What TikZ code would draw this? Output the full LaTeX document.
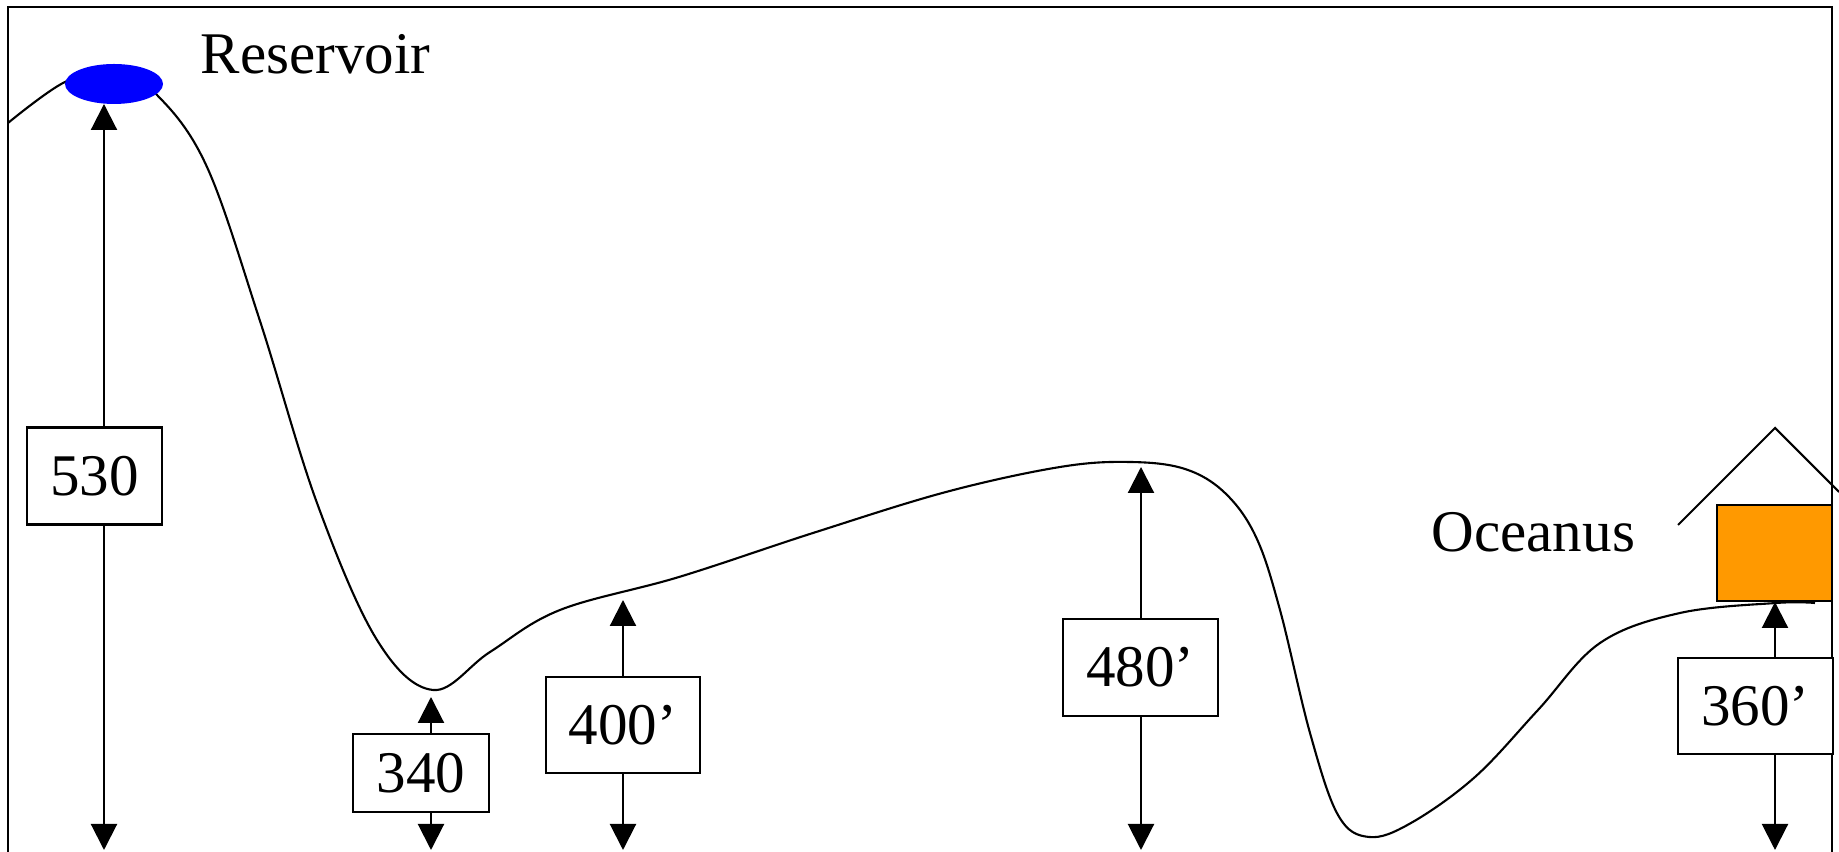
\documentclass[tikz,border=0pt]{standalone}
\usepackage{fontspec}
\setmainfont{Liberation Serif}
\usetikzlibrary{arrows.meta,shapes.geometric}
\definecolor{lakeblue}{rgb}{0,0,1}
\definecolor{houseorange}{rgb}{1,0.6,0}
\tikzset{
  cota/.style={
    draw=black,
    fill=white,
    line width=0.6pt,
    align=center,
    inner sep=0pt,
    minimum width=15.5mm,
    minimum height=9.7mm,
    font=\fontsize{16.8}{20}\selectfont
  },
  rotulo/.style={
    inner sep=0pt,
    anchor=base west,
    font=\fontsize{16.8}{20}\selectfont
  },
  arrow/.style={
    -{Triangle[length=2.6mm,width=2.6mm]},
    line width=0.6pt,
    black
  }
}
\begin{document}
\begin{tikzpicture}[x=0.1mm,y=-0.1mm]
\useasboundingbox (0,0) rectangle (1839,852);
% frame
\draw[line width=0.8pt] (8,852) -- (8,7) -- (1832,7) -- (1832,852);
% terrain
\draw[line width=0.6pt] plot[smooth, tension=0.6] coordinates {
  (8,123) (65,82) (114,72) (157,95) (207,167) (260,321) (317,503)
  (377,640) (433,690) (490,652) (560,610) (679,577) (813,533) (946,492)
  (1060,467) (1130,462) (1185,469) (1225,493) (1256,537) (1280,610)
  (1310,733) (1338,815) (1369,837) (1411,823) (1475,777) (1538,710)
  (1600,643) (1680,613) (1776,603) (1815,603)};
% reservoir
\node[ellipse, fill=lakeblue, inner sep=0pt, minimum width=9.8mm, minimum height=4mm] (res) at (114,84) {};
\node[rotulo] (reslbl) at (200,74) {Reservoir};
% house
\node[draw, line width=0.6pt, fill=houseorange, inner sep=0pt, minimum width=11.5mm, minimum height=9.6mm] (casa) at (1774.5,553) {};
\draw[line width=0.6pt] (1678,525) -- (1775,428) -- (1839,492);
\node[rotulo] (ocelbl) at (1431,552) {Oceanus};
% elevation tips
\coordinate (t530) at (104,104);
\coordinate (d530) at (104,850);
\coordinate (t340) at (431,697);
\coordinate (d340) at (431,850);
\coordinate (t400) at (623,600);
\coordinate (d400) at (623,850);
\coordinate (t480) at (1141,467);
\coordinate (d480) at (1141,850);
\coordinate (t360) at (1775,602);
\coordinate (d360) at (1775,850);
% elevation boxes
\node[cota, minimum width=13.5mm] (b530) at (94.5,476) {530};
\node[cota, minimum width=13.6mm, minimum height=7.8mm] (b340) at (421,773) {340};
\node[cota, minimum width=15.4mm, minimum height=9.6mm] (b400) at (623,725) {400’};
\node[cota] (b480) at (1140.5,667.5) {480’};
\node[cota, minimum height=9.6mm] (b360) at (1755.5,706) {360’};
% arrows
\draw[arrow] (b530.north -| t530) -- (t530);
\draw[arrow] (b530.south -| d530) -- (d530);
\draw[arrow] (b340.north -| t340) -- (t340);
\draw[arrow] (b340.south -| d340) -- (d340);
\draw[arrow] (b400.north) -- (t400);
\draw[arrow] (b400.south) -- (d400);
\draw[arrow] (b480.north -| t480) -- (t480);
\draw[arrow] (b480.south -| d480) -- (d480);
\draw[arrow] (b360.north -| t360) -- (t360);
\draw[arrow] (b360.south -| d360) -- (d360);
\end{tikzpicture}
\end{document}
